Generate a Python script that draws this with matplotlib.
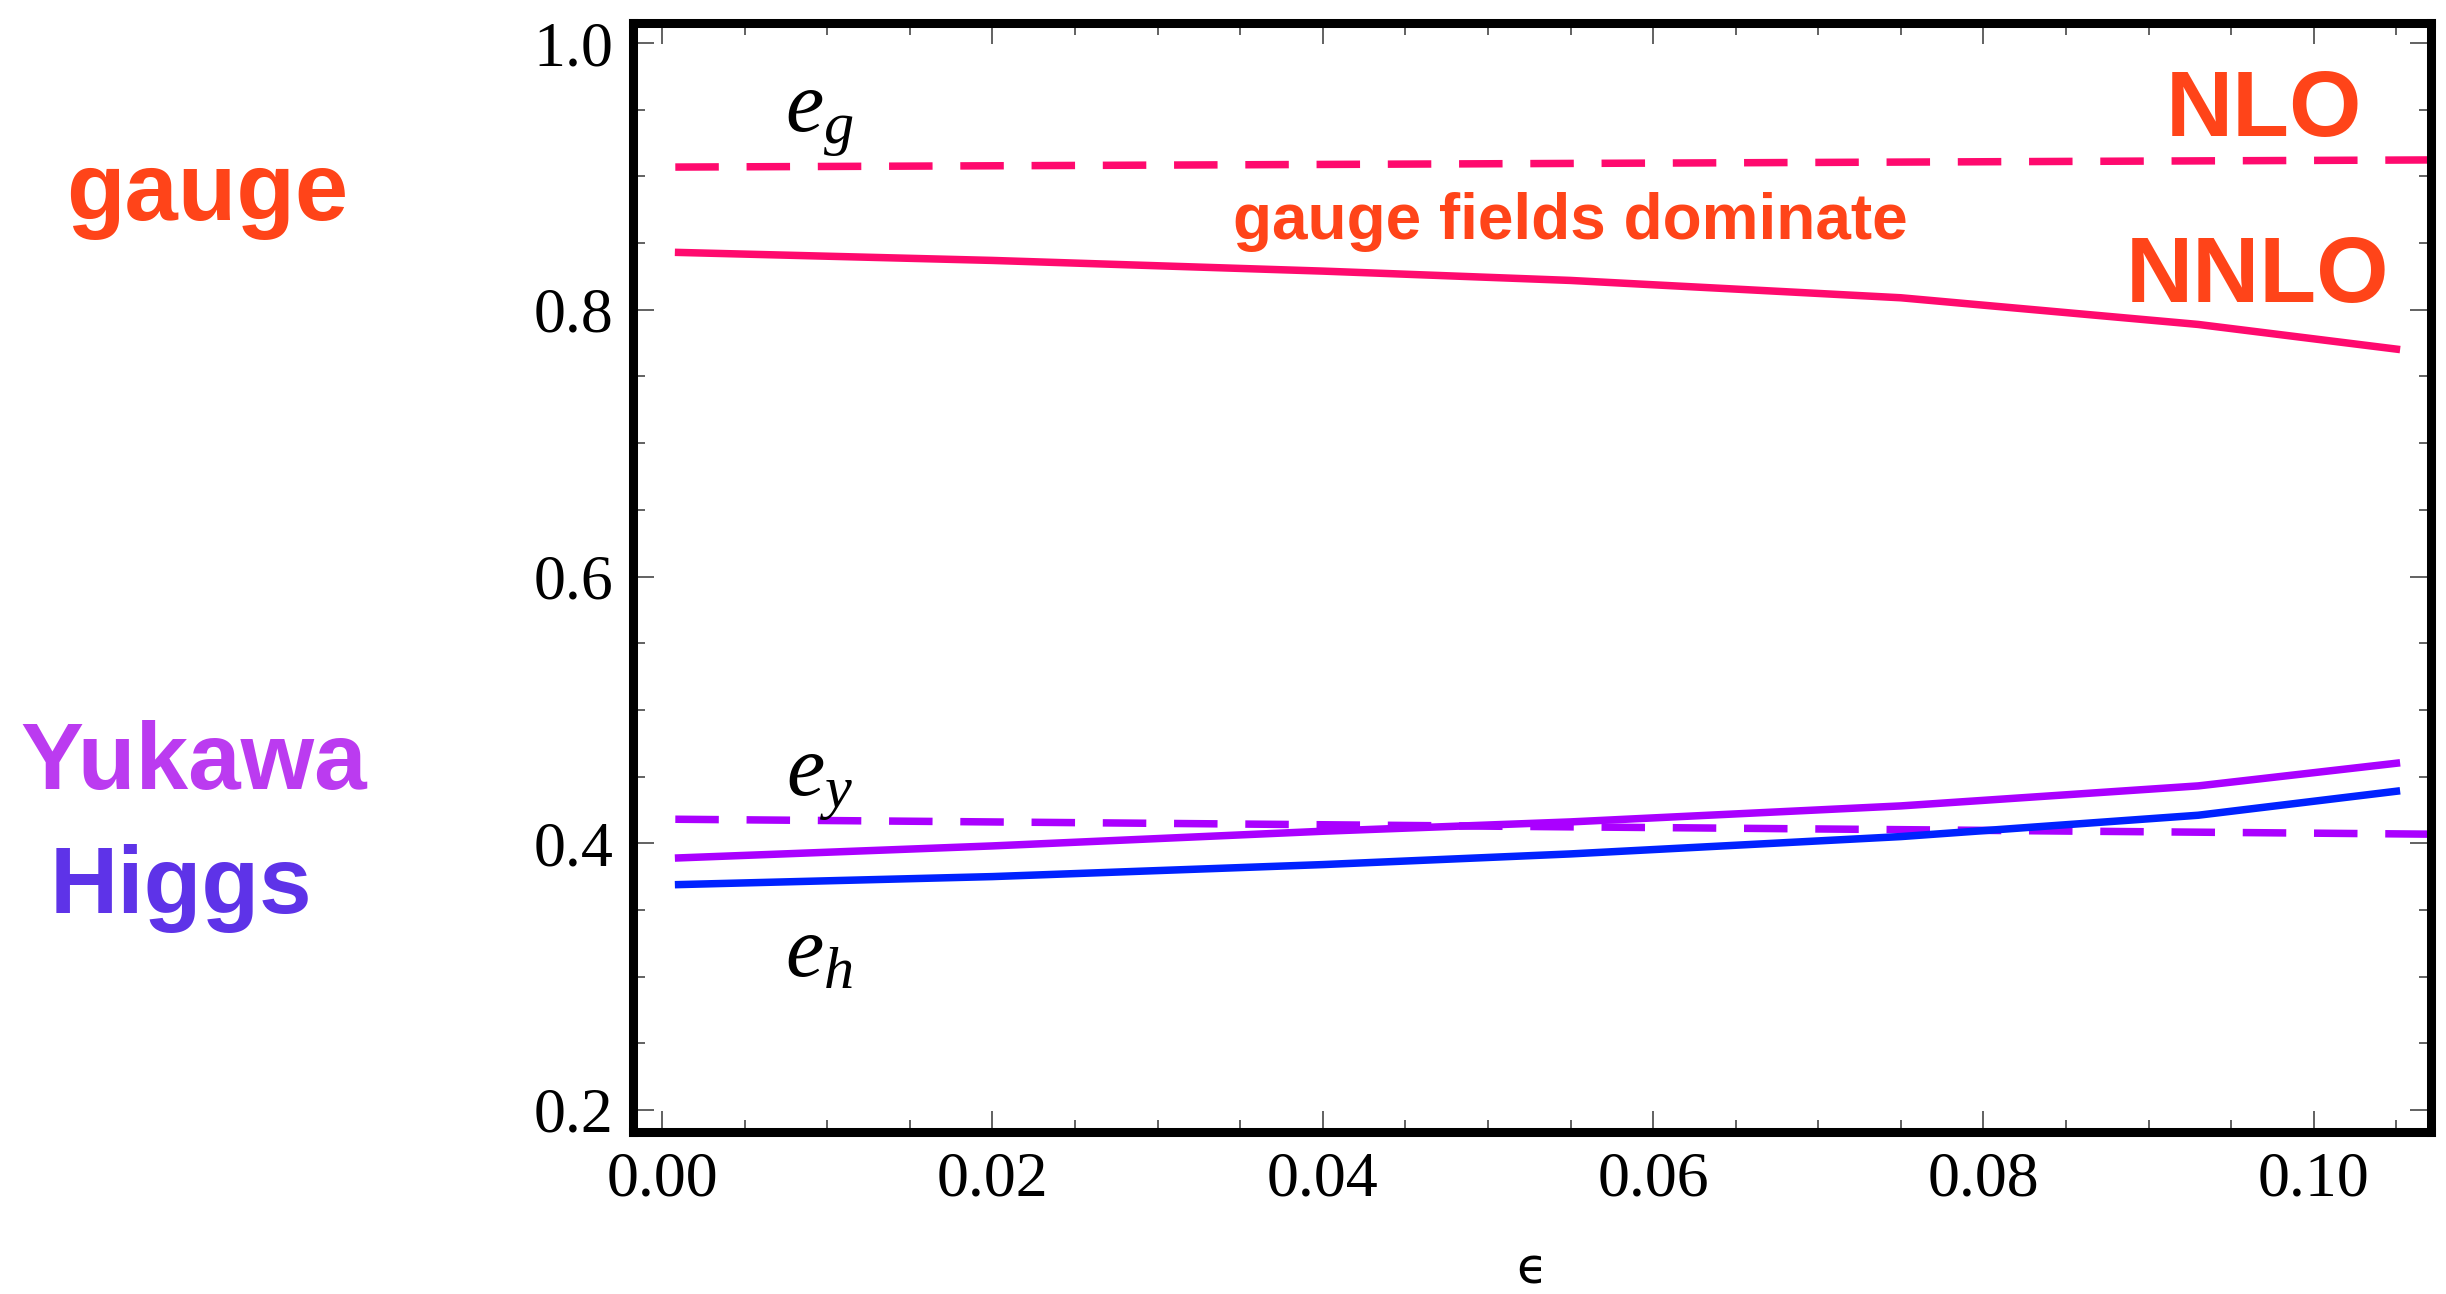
import numpy as np
import matplotlib
matplotlib.use("Agg")
import matplotlib.pyplot as plt
from matplotlib.ticker import MultipleLocator, FormatStrFormatter

plt.rcParams['mathtext.fontset'] = 'custom'
plt.rcParams['mathtext.rm'] = 'Liberation Serif'
plt.rcParams['mathtext.it'] = 'Liberation Serif:italic'

# data
eps_nlo = [0.0008, 0.11]
eg_nlo = [0.907, 0.9125]
ey_nlo = [0.418, 0.4065]

eps = [0.001, 0.02, 0.04, 0.055, 0.075, 0.093, 0.105]
eg_nnlo = [0.843, 0.837, 0.829, 0.822, 0.809, 0.789, 0.7705]
ey_nnlo = [0.389, 0.398, 0.409, 0.416, 0.428, 0.443, 0.460]
eh_nnlo = [0.369, 0.375, 0.384, 0.392, 0.405, 0.421, 0.439]

c_gauge = '#FF0A6E'
c_yuk = '#AA00FF'
c_higgs = '#0022FF'
c_text = '#FF4419'

fig = plt.figure(figsize=(24.46, 12.94), dpi=100)
ax = fig.add_axes([0.2588, 0.1252, 0.9939 - 0.2588, 0.9822 - 0.1252])

lw = 5.4
ax.plot(eps_nlo, eg_nlo, color=c_gauge, lw=lw, dashes=(5.8, 3.7))
ax.plot(eps_nlo, ey_nlo, color=c_yuk, lw=lw, dashes=(5.8, 3.7))
ax.plot(eps, eg_nnlo, color=c_gauge, lw=lw)
ax.plot(eps, ey_nnlo, color=c_yuk, lw=lw)
ax.plot(eps, eh_nnlo, color=c_higgs, lw=lw)

ax.set_xlim(-0.00176, 0.1071)
ax.set_ylim(0.1835, 1.015)

ax.xaxis.set_major_locator(MultipleLocator(0.02))
ax.xaxis.set_minor_locator(MultipleLocator(0.005))
ax.yaxis.set_major_locator(MultipleLocator(0.2))
ax.yaxis.set_minor_locator(MultipleLocator(0.05))
ax.xaxis.set_major_formatter(FormatStrFormatter('%.2f'))
ax.yaxis.set_major_formatter(FormatStrFormatter('%.1f'))

ax.tick_params(which='both', direction='in', top=True, right=True,
               color='#555555', width=1.3, labelsize=46, pad=14)
ax.tick_params(which='major', length=15)
ax.tick_params(which='minor', length=8.5)
for lab in ax.get_xticklabels() + ax.get_yticklabels():
    lab.set_fontfamily('Liberation Serif')

for sp in ax.spines.values():
    sp.set_linewidth(6.5)
    sp.set_color('black')

ax.set_xlabel('ϵ', fontsize=36, fontfamily='DejaVu Sans', va='center')
ax.xaxis.set_label_coords(0.5, -0.124)

# curve labels
ax.text(0.0095, 0.945, r'$e_g$', fontsize=62, ha='center', va='center')
ax.text(0.0095, 0.447, r'$e_y$', fontsize=62, ha='center', va='center')
ax.text(0.0095, 0.318, r'$e_h$', fontsize=62, ha='center', va='center')

bold = dict(fontfamily='Liberation Sans', fontweight='bold', color=c_text)
ax.text(0.097, 0.948, 'NLO', fontsize=67, ha='center', va='center', **bold)
ax.text(0.0966, 0.824, 'NNLO', fontsize=67, ha='center', va='center', **bold)
ax.text(0.055, 0.866, 'gauge fields dominate', fontsize=46, ha='center', va='center', **bold)

fig.text(0.0846, 0.849, 'gauge', fontsize=69, ha='center', va='center', **bold)
fig.text(0.079, 0.409, 'Yukawa', fontsize=68, ha='center', va='center',
         fontfamily='Liberation Sans', fontweight='bold', color='#BB3BF0')
fig.text(0.074, 0.313, 'Higgs', fontsize=68, ha='center', va='center',
         fontfamily='Liberation Sans', fontweight='bold', color='#5E33E8')

fig.savefig('out.png', dpi=100)
